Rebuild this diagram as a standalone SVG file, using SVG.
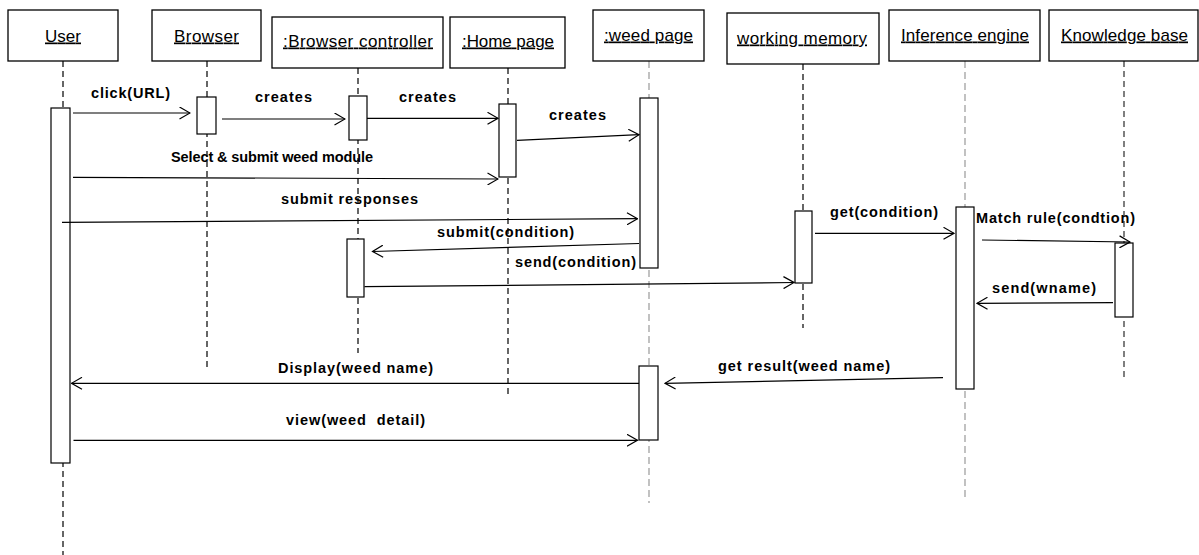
<svg xmlns="http://www.w3.org/2000/svg" width="1199" height="555" viewBox="0 0 1199 555">
<defs>
<marker id="open" viewBox="0 0 12 13" refX="11" refY="6.5" markerWidth="12" markerHeight="13" markerUnits="userSpaceOnUse" orient="auto">
<path d="M0.5,0.5 L11,6.5 L0.5,12.5" fill="none" stroke="#000" stroke-width="1.2"/>
</marker>
</defs>
<style>
.hdr{fill:#fff;stroke:#000;stroke-width:1.3}
.ht{font-family:"Liberation Sans",Arial,sans-serif;font-size:17px;fill:#000;text-decoration:underline}
.ll{stroke:#000;stroke-width:1.2;stroke-dasharray:6 4;fill:none}
.lg{stroke:#999;stroke-width:1.2;stroke-dasharray:7 4;fill:none}
.lk{stroke:#555;stroke-width:1.5;stroke-dasharray:6 4;fill:none}
.act{fill:#fff;stroke:#000;stroke-width:1.2}
.msg{stroke:#000;stroke-width:1.2;fill:none;marker-end:url(#open)}
.lb{font-family:"Liberation Sans",Arial,sans-serif;font-size:14.5px;font-weight:bold;fill:#000}
</style>
<rect width="1199" height="555" fill="#fff"/>

<g id="lifelines">
<line class="ll" x1="63" y1="61" x2="63" y2="555"/>
<line class="ll" x1="207" y1="61" x2="207" y2="370"/>
<line class="ll" x1="358" y1="68" x2="358" y2="353"/>
<line class="ll" x1="508" y1="68" x2="508" y2="395"/>
<line class="lg" x1="649" y1="61" x2="649" y2="503"/>
<line class="ll" x1="803" y1="64" x2="803" y2="328"/>
<line class="lg" x1="965" y1="61" x2="965" y2="498"/>
<line class="lk" x1="1124" y1="61" x2="1124" y2="377"/>
</g>

<g id="user">
<rect class="hdr" x="8" y="10" width="110" height="51"/>
<text class="ht" x="45" y="41.5" textLength="36">User</text>
<rect class="act" x="51" y="108" width="19" height="355"/>
</g>
<g id="browser">
<rect class="hdr" x="152" y="10" width="109" height="51"/>
<text class="ht" x="174" y="41.5" textLength="65">Browser</text>
<rect class="act" x="197" y="97" width="19" height="37"/>
</g>
<g id="browser-controller">
<rect class="hdr" x="272" y="17" width="171" height="51"/>
<text class="ht" x="283" y="46.5" textLength="150">:Browser controller</text>
<rect class="act" x="349" y="96" width="18" height="44"/>
<rect class="act" x="347" y="239" width="17" height="58"/>
</g>
<g id="home-page">
<rect class="hdr" x="450" y="17" width="115" height="51"/>
<text class="ht" x="462" y="46.5" textLength="92">:Home page</text>
<rect class="act" x="499" y="104" width="17" height="73"/>
</g>
<g id="weed-page">
<rect class="hdr" x="593" y="10" width="111" height="51"/>
<text class="ht" x="604" y="40.5" textLength="89">:weed page</text>
<rect class="act" x="640" y="98" width="18" height="170"/>
<rect class="act" x="639" y="366" width="19" height="74"/>
</g>
<g id="working-memory">
<rect class="hdr" x="727" y="13" width="152" height="51"/>
<text class="ht" x="737" y="43.5" textLength="130">working memory</text>
<rect class="act" x="795" y="211" width="17" height="72"/>
</g>
<g id="inference-engine">
<rect class="hdr" x="889" y="10" width="151" height="51"/>
<text class="ht" x="901" y="40.5" textLength="128">Inference engine</text>
<rect class="act" x="956" y="207" width="18" height="182"/>
</g>
<g id="knowledge-base">
<rect class="hdr" x="1049" y="10" width="149" height="51"/>
<text class="ht" x="1061" y="40.5" textLength="127">Knowledge base</text>
<rect class="act" x="1115" y="243" width="18" height="74" stroke="#444"/>
</g>

<g id="connectors">
<line class="msg" x1="73" y1="113" x2="190" y2="113"/>
<line class="msg" x1="222" y1="119" x2="345" y2="119"/>
<line class="msg" x1="367" y1="118.3" x2="498" y2="118.3"/>
<line class="msg" x1="517" y1="140.3" x2="639" y2="134.7"/>
<line class="msg" x1="73" y1="177.3" x2="498" y2="179"/>
<line class="msg" x1="62" y1="222.3" x2="637.5" y2="218.7"/>
<line class="msg" x1="639" y1="243.5" x2="372.5" y2="251.5"/>
<line class="msg" x1="364.5" y1="286.7" x2="794" y2="282.5"/>
<line class="msg" x1="815" y1="233.3" x2="954" y2="233.3"/>
<line class="msg" x1="982" y1="240" x2="1130" y2="242"/>
<line class="msg" x1="1113" y1="302.7" x2="977" y2="303.3"/>
<line class="msg" x1="943" y1="377.7" x2="665" y2="383.3"/>
<line class="msg" x1="639" y1="383.3" x2="71.5" y2="383.3"/>
<line class="msg" x1="73.5" y1="440.3" x2="637.5" y2="440.3"/>
</g>

<g id="labels">
<text class="lb" x="91" y="97.5" textLength="79">click(URL)</text>
<text class="lb" x="255" y="101.5" textLength="57">creates</text>
<text class="lb" x="399" y="101.5" textLength="57">creates</text>
<text class="lb" x="549" y="120" textLength="57">creates</text>
<text class="lb" x="171" y="161.5" textLength="202">Select &amp; submit weed module</text>
<text class="lb" x="281" y="204" textLength="137">submit responses</text>
<text class="lb" x="437" y="236.5" textLength="137">submit(condition)</text>
<text class="lb" x="515" y="267" textLength="121">send(condition)</text>
<text class="lb" x="830" y="216.5" textLength="108">get(condition)</text>
<text class="lb" x="976" y="223" textLength="159">Match rule(condtion)</text>
<text class="lb" x="992" y="293" textLength="104">send(wname)</text>
<text class="lb" x="718" y="371" textLength="172">get result(weed name)</text>
<text class="lb" x="278" y="372.5" textLength="155">Display(weed name)</text>
<text class="lb" x="286" y="425" textLength="139" xml:space="preserve">view(weed  detail)</text>
</g>
</svg>
